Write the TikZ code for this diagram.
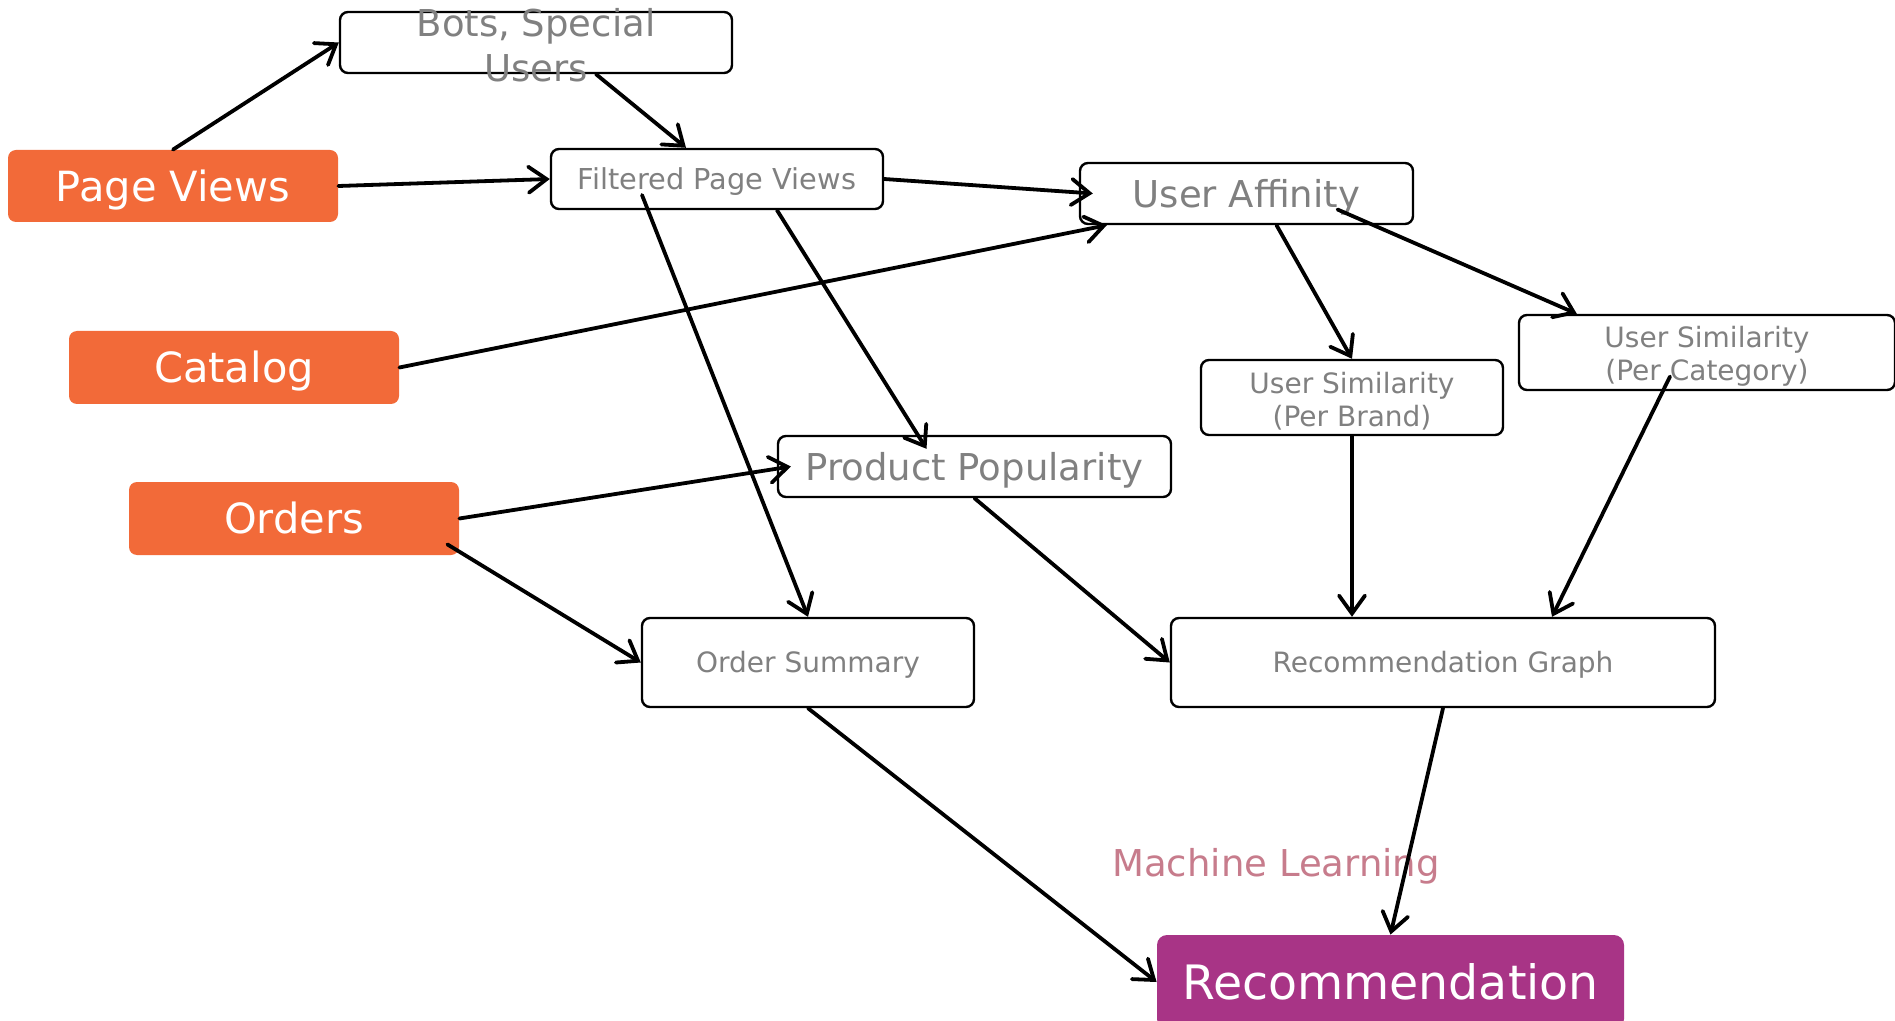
\documentclass[tikz,border=0pt]{standalone}
\usepackage{fontspec}
\setmainfont{DejaVu Sans}
\usetikzlibrary{arrows.meta,calc}
\definecolor{srcorange}{HTML}{F26A39}
\definecolor{sinkpurple}{HTML}{A83486}
\definecolor{labelgray}{HTML}{808080}
\definecolor{mlpink}{HTML}{C77C8C}

\begin{document}
\begin{tikzpicture}[x=0.5pt,y=-0.5pt,
  src/.style={fill=srcorange, rounded corners=4pt, text=white, inner sep=0pt,
    font=\fontsize{20.8}{25}\selectfont, text height=15.4pt, text depth=0pt},
  stage/.style={draw=black, line width=1.2pt, rounded corners=4pt, text=labelgray,
    inner sep=0pt, align=center},
  bigline/.style={text height=13.7pt, text depth=0pt},
  smallline/.style={text height=10.4pt, text depth=0pt},
  twoline/.style={text height=31.1pt},
  big/.style={font=\fontsize{18.5}{22.5}\selectfont},
  small/.style={font=\fontsize{14}{16.5}\selectfont},
  flow/.style={draw=black, line width=1.9pt, line cap=round,
    -{Straight Barb[length=9pt,width=13pt,line cap=round]}},
]
\useasboundingbox (0,0) rectangle (1895,1021);
\fill[white] (0,0) rectangle (1895,1021);

% sources
\node[src, minimum width=165pt, minimum height=36pt] (pv) at (173,186) {Page Views};
\node[src, minimum width=165pt, minimum height=36.5pt] (cat) at (234,367.5) {Catalog};
\node[src, minimum width=165pt, minimum height=36.5pt] (ord) at (294,518.5) {Orders};

% processing stages
\node[stage, minimum width=196pt, minimum height=30.5pt,
  label={[big, text=labelgray, align=center, yshift=-1.5pt]center:Bots, Special\\Users}] (bots) at (536,42.5) {};
\node[stage, font=\fontsize{14.4}{17}\selectfont, text height=10.7pt, text depth=0pt,
  minimum width=166pt, minimum height=30pt] (fpv) at (717,179) {Filtered Page Views};
\node[stage, big, bigline, minimum width=166.5pt, minimum height=30.5pt] (ua) at (1246.5,193.5) {User Affinity};
\node[stage, small, twoline, minimum width=151pt, minimum height=37.5pt] (usb) at (1352,397.5) {User Similarity\\(Per Brand)};
\node[stage, small, twoline, minimum width=188pt, minimum height=37.5pt] (usc) at (1707,352.5) {User Similarity\\(Per Category)};
\node[stage, big, bigline, minimum width=196.5pt, minimum height=30.5pt] (pp) at (974.5,466.5) {Product Popularity};
\node[stage, small, smallline, minimum width=166pt, minimum height=44.5pt] (os) at (808,662.5) {Order Summary};
\node[stage, small, smallline, minimum width=272pt, minimum height=44.5pt] (rg) at (1443,662.5) {Recommendation Graph};

% output
\node[text=mlpink, big, anchor=base] (ml) at (1276,876) {Machine Learning};
\node[fill=sinkpurple, rounded corners=5pt, text=white, inner sep=0pt,
  minimum width=233.5pt, minimum height=47pt, text height=17.5pt, text depth=0pt,
  font=\fontsize{23.7}{28}\selectfont] (rec) at (1390.5,982) {Recommendation};

% data flow
\draw[flow] (pv.north) -- (bots.west);
\draw[flow] ($(bots.south)+(60,0)$) -- ($(fpv.north)+(-31,0)$);
\draw[flow] (pv.east) -- (fpv.west);
\draw[flow] (fpv.east) -- ($(ua.west)+(14,0)$);
\draw[flow] (cat.east) -- ($(ua.south west)+(28,0)$);
\draw[flow] ($(fpv.south)+(60,0)$) -- ($(pp.north)+(-48,14)$);
\draw[flow] ($(fpv.center)+(-75,16)$) -- (os.north);
\draw[flow] (ord.east) -- ($(pp.west)+(14,0)$);
\draw[flow] ($(ord.south east)+(-12,-11)$) -- (os.west);
\draw[flow] ($(ua.south)+(30,0)$) -- (usb.north);
\draw[flow] ($(ua.center)+(91,16)$) -- ($(usc.north west)+(59,0)$);
\draw[flow] (pp.south) -- (rg.west);
\draw[flow] (usb.south) -- (usb.south |- rg.north);
\draw[flow] ($(usc.center)+(-37,24)$) -- ($(rg.north)+(109,0)$);
\draw[flow] (os.south) -- (rec.west);
\draw[flow] (rg.south) -- (rec.north);
\end{tikzpicture}
\end{document}
